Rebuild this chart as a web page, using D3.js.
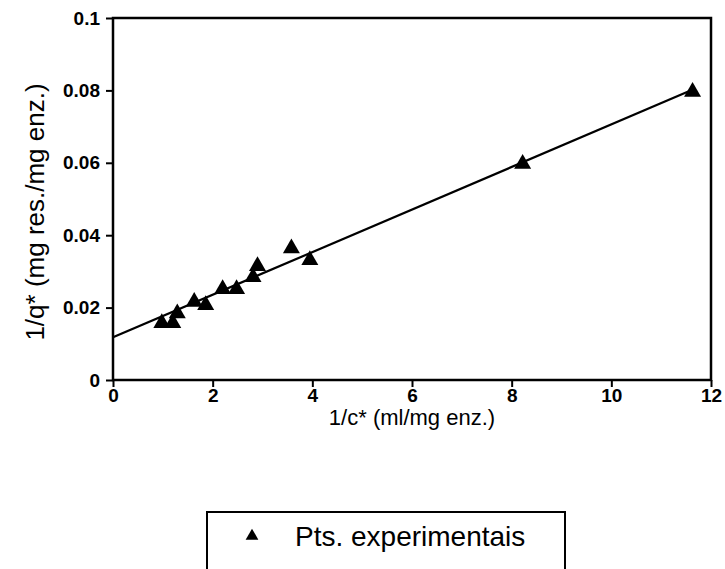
<!DOCTYPE html>
<html>
  <head>
    <meta charset="utf-8">
    <title>1/q* vs 1/c*</title>
    <script type="text/javascript" src="https://d3js.org/d3.v7.min.js"></script>
    <style>
      body { margin: 0; background: #fff; }
      text { font-family: "Liberation Sans", Arial, sans-serif; fill: #000; }
    </style>
  </head>
  <body>
    <script type="text/javascript">
    var w = 725;
    var h = 569;

    // experimental points (1/c*, 1/q*)
    var ptsX = [0.98, 1.2, 1.29, 1.63, 1.86, 2.2, 2.48, 2.81, 2.9, 3.58, 3.95, 8.22, 11.63];
    var ptsY = [0.0157, 0.0157, 0.0184, 0.0216, 0.0207, 0.0251, 0.0251, 0.0284, 0.0315, 0.0364, 0.0331, 0.0597, 0.0796];

    // fitted line end points
    var fitX = [0, 11.65];
    var fitY = [0.0118, 0.0803];

    var xTicks = [0, 2, 4, 6, 8, 10, 12];
    var yTicks = [0, 0.02, 0.04, 0.06, 0.08, 0.1];
    var yTickLabels = ["0", "0.02", "0.04", "0.06", "0.08", "0.1"];

    var xScale = d3.scaleLinear().domain([0, 12]).range([113, 711]);
    var yScale = d3.scaleLinear().domain([0, 0.1]).range([380, 18]);

    var svg = d3.select("body")
                .append("svg")
                .attr("width", w)
                .attr("height", h);

    // frame
    svg.append("rect")
       .attr("x", xScale(0))
       .attr("y", yScale(0.1))
       .attr("width", xScale(12) - xScale(0))
       .attr("height", yScale(0) - yScale(0.1))
       .attr("fill", "none")
       .attr("stroke", "#000")
       .attr("stroke-width", 2.5);

    // axes
    var xAxis = svg.append("g")
       .attr("transform", "translate(0," + yScale(0) + ")")
       .call(d3.axisBottom(xScale).tickValues(xTicks).tickSize(7).tickPadding(2).tickFormat(d3.format("d")));
    xAxis.select(".domain").remove();
    xAxis.selectAll("line").attr("stroke-width", 2);
    xAxis.selectAll("text")
         .attr("font-size", "19px")
         .attr("font-weight", "bold")
         .attr("font-family", "'Liberation Sans', Arial, sans-serif");

    var yAxis = svg.append("g")
       .attr("transform", "translate(" + xScale(0) + ",0)")
       .call(d3.axisLeft(yScale).tickValues(yTicks).tickSize(7).tickPadding(6)
              .tickFormat(function(d, i){ return yTickLabels[i]; }));
    yAxis.select(".domain").remove();
    yAxis.selectAll("line").attr("stroke-width", 2);
    yAxis.selectAll("text")
         .attr("font-size", "19px")
         .attr("font-weight", "bold")
         .attr("font-family", "'Liberation Sans', Arial, sans-serif");

    // fit line
    var line = d3.line()
                 .x(function(d){ return xScale(d[0]); })
                 .y(function(d){ return yScale(d[1]); });
    svg.append("path")
       .datum(fitX.map(function(x, i){ return [x, fitY[i]]; }))
       .attr("d", line)
       .attr("fill", "none")
       .attr("stroke", "#000")
       .attr("stroke-width", 2.2);

    // points
    var tri = d3.symbol().type(d3.symbolTriangle).size(125);
    svg.selectAll("path.pt")
       .data(ptsX.map(function(x, i){ return [x, ptsY[i]]; }))
       .enter()
       .append("path")
       .attr("class", "pt")
       .attr("d", tri)
       .attr("transform", function(d){
          return "translate(" + xScale(d[0]) + "," + yScale(d[1]) + ")";
        })
       .attr("fill", "#000");

    // axis titles
    svg.append("text")
       .attr("x", 412)
       .attr("y", 425)
       .attr("text-anchor", "middle")
       .attr("font-size", "22px")
       .text("1/c* (ml/mg enz.)");

    svg.append("text")
       .attr("transform", "translate(44,212) rotate(-90)")
       .attr("text-anchor", "middle")
       .attr("font-size", "26px")
       .text("1/q* (mg res./mg enz.)");

    // legend
    svg.append("rect")
       .attr("x", 207)
       .attr("y", 512)
       .attr("width", 358)
       .attr("height", 80)
       .attr("fill", "none")
       .attr("stroke", "#000")
       .attr("stroke-width", 2);
    svg.append("path")
       .attr("d", d3.symbol().type(d3.symbolTriangle).size(70))
       .attr("transform", "translate(252,536)")
       .attr("fill", "#000");
    svg.append("text")
       .attr("x", 295)
       .attr("y", 546)
       .attr("font-size", "28px")
       .text("Pts. experimentais");
    </script>
  </body>
</html>
